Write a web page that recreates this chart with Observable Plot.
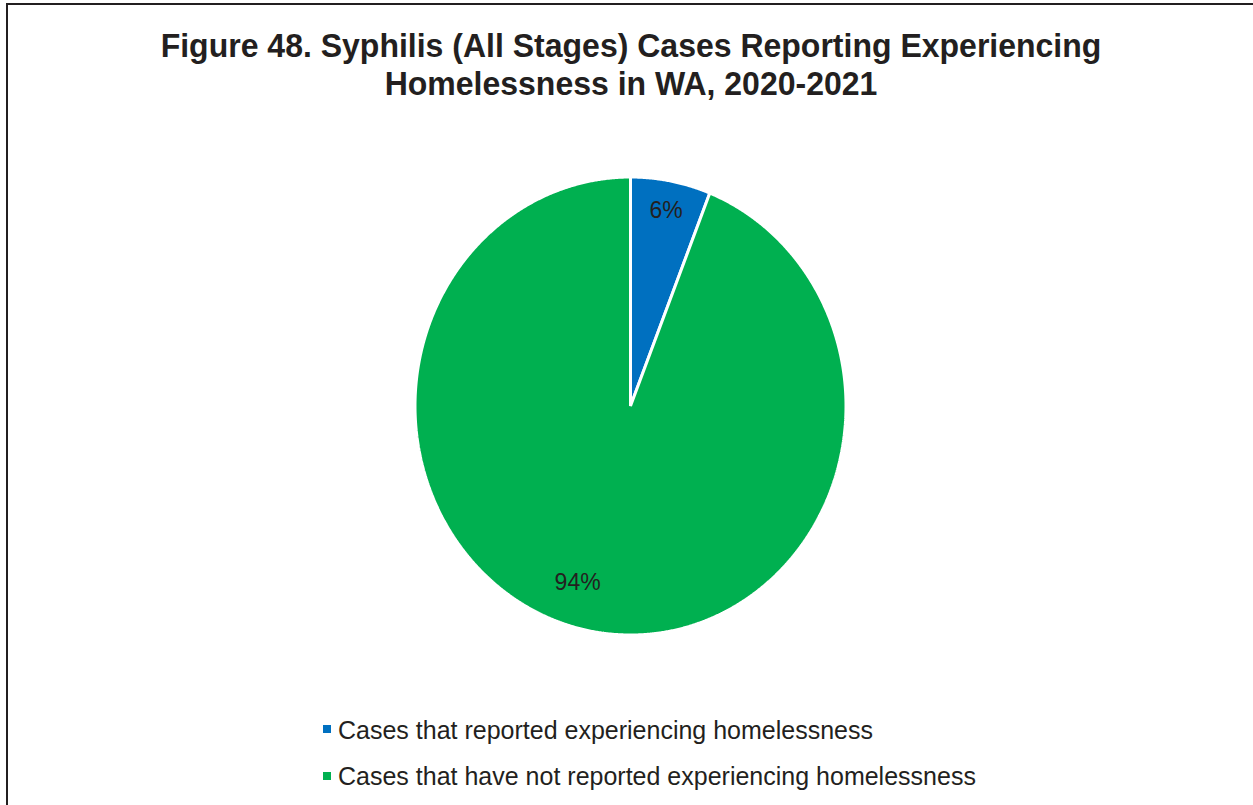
<!DOCTYPE html>
<html><head><meta charset="utf-8">
<script src="https://cdn.jsdelivr.net/npm/d3@7"></script>
<script src="https://cdn.jsdelivr.net/npm/@observablehq/plot@0.6"></script>
<style>
html,body{margin:0;padding:0;background:#fff;overflow:hidden;}
body{font-family:"Liberation Sans",Arial,sans-serif;color:#231f20;width:1253px;height:805px;position:relative;}
#frame{position:absolute;left:6px;top:3px;width:1400px;height:900px;border-left:2px solid #231f20;border-top:2px solid #231f20;}
#title{position:absolute;left:0;width:1262px;top:26px;text-align:center;font-weight:bold;font-size:32px;line-height:36.4px;margin:0;transform:scaleY(1.063);transform-origin:0 0;}
#chart{position:absolute;left:0;top:140px;}
#legend{position:absolute;left:323px;top:705.75px;font-size:25px;color:#231f20;}
.item{display:flex;align-items:center;height:46.5px;}
.sw{width:8px;height:8px;margin-right:7px;flex:none;}
.tx{display:inline-block;transform:scaleY(1.063);white-space:nowrap;}
</style>
</head><body>
<div id="frame"></div>
<h1 id="title">Figure 48. Syphilis (All Stages) Cases Reporting Experiencing<br>Homelessness in WA, 2020-2021</h1>
<div id="chart"></div>
<div id="legend"></div>
<script>
// ---- data ----
const categories = ["Cases that reported experiencing homelessness", "Cases that have not reported experiencing homelessness"];
const shares = [6, 94];
const labels = ["6%", "94%"];
const colors = ["#0070c0", "#00b050"];

// ---- layout / style config ----
const labelRadius = [0.87, 0.81];
const labelAngleShift = [0, 7 * Math.PI / 180];

const arcs = d3.pie().sort(null).value(d => d)(shares);
const arcPoints = [];
arcs.forEach((a, i) => {
  const n = Math.max(4, Math.ceil((a.endAngle - a.startAngle) / 0.005));
  for (let k = 0; k <= n; k++) {
    const t = a.startAngle + (a.endAngle - a.startAngle) * k / n;
    arcPoints.push({cat: categories[i], x: Math.sin(t), y: Math.cos(t)});
  }
});
const labelData = arcs.map((a, i) => {
  const m = (a.startAngle + a.endAngle) / 2 + labelAngleShift[i];
  return {text: labels[i], x: labelRadius[i] * Math.sin(m), y: labelRadius[i] * Math.cos(m)};
});

const plot = Plot.plot({
  width: 1253,
  height: 540,
  margin: 0,
  x: {domain: [-1, 1], range: [415, 846], axis: null},
  y: {domain: [-1, 1], range: [495, 37], axis: null},
  color: {domain: categories, range: colors},
  style: {background: "transparent"},
  marks: [
    Plot.area(arcPoints, {x1: "x", y1: "y", x2: () => 0, y2: () => 0, z: "cat", fill: "cat", stroke: "white", strokeWidth: 3, strokeLinejoin: "miter"}),
    Plot.text(labelData, {x: "x", y: "y", text: "text", fontSize: 23, fill: "#231f20", fontFamily: "Liberation Sans, Arial, sans-serif"})
  ]
});
document.getElementById("chart").appendChild(plot);

const leg = document.getElementById("legend");
categories.forEach((c, i) => {
  const it = document.createElement("div");
  it.className = "item";
  const sw = document.createElement("span");
  sw.className = "sw";
  sw.style.background = colors[i];
  const tx = document.createElement("span");
  tx.className = "tx";
  tx.textContent = c;
  it.appendChild(sw); it.appendChild(tx);
  leg.appendChild(it);
});
</script>
</body></html>
